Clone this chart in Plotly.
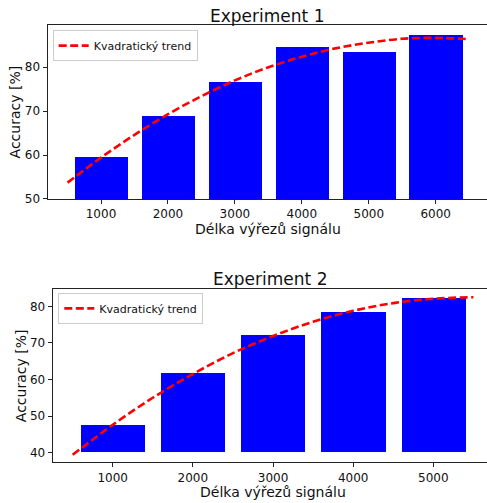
import plotly.graph_objects as go

# ---- data ----
exp1_lengths = [1000, 2000, 3000, 4000, 5000, 6000]
exp1_accuracy = [59.6, 68.8, 76.7, 84.5, 83.4, 87.4]
exp1_trend_x = [500, 1000, 1500, 2000, 2500, 3000, 3500, 4000, 4500, 5000, 5500, 6000, 6500]
exp1_trend_y = [53.7, 59.4, 64.6, 69.3, 73.4, 77.0, 80.0, 82.4, 84.3, 85.6, 86.5, 86.7, 86.4]

exp2_lengths = [1000, 2000, 3000, 4000, 5000]
exp2_accuracy = [47.5, 61.8, 72.1, 78.3, 82.35]
exp2_trend_x = [500, 1000, 1500, 2000, 2500, 3000, 3500, 4000, 4500, 5000, 5500]
exp2_trend_y = [39.4, 47.6, 55.0, 61.5, 67.2, 71.9, 75.8, 78.8, 80.9, 82.1, 82.5]

exp2_bar_base = 40

titles = ["Experiment 1", "Experiment 2"]
x_label = "Délka výřezů signálu"
y_label = "Accuracy [%]"
trend_name = "Kvadratický trend"

W, H = 487, 503
FONT = "DejaVu Sans"
BLUE = "#0000ff"
RED = "#ff0000"


def py(p):
    return 1 - p / H


def pxx(p):
    return p / W


fig = go.Figure()

fig.add_trace(go.Bar(x=exp1_lengths, y=exp1_accuracy, width=800, marker=dict(color=BLUE, line=dict(width=0)),
                     xaxis="x", yaxis="y", showlegend=False))
fig.add_trace(go.Scatter(x=exp1_trend_x, y=exp1_trend_y, mode="lines", name=trend_name,
                         line=dict(color=RED, width=2.6, dash="8px,3.5px", shape="spline"),
                         xaxis="x", yaxis="y", legend="legend"))

fig.add_trace(go.Bar(x=exp2_lengths, y=[v - exp2_bar_base for v in exp2_accuracy], base=exp2_bar_base,
                     width=800, marker=dict(color=BLUE, line=dict(width=0)),
                     xaxis="x2", yaxis="y2", showlegend=False))
fig.add_trace(go.Scatter(x=exp2_trend_x, y=exp2_trend_y, mode="lines", name=trend_name,
                         line=dict(color=RED, width=2.6, dash="8px,3.5px", shape="spline"),
                         xaxis="x2", yaxis="y2", legend="legend2"))

axis_common = dict(showgrid=False, zeroline=False, showline=True, linecolor="#222222", linewidth=1,
                   ticks="outside", ticklen=4, tickwidth=1, tickcolor="#222222",
                   tickfont=dict(family=FONT, size=12, color="#111111"), fixedrange=True)

fig.update_layout(
    width=W, height=H, margin=dict(l=0, r=0, t=0, b=0),
    paper_bgcolor="white", plot_bgcolor="white",
    bargap=0,
    xaxis=dict(axis_common, domain=[pxx(47.5), 1], range=[200.8, 6766], anchor="y", mirror=True,
               tickvals=exp1_lengths),
    yaxis=dict(axis_common, domain=[py(201.7), py(25.5)], range=[50, 89.6], anchor="x",
               tickvals=[50, 60, 70, 80]),
    xaxis2=dict(axis_common, domain=[pxx(52.6), 1], range=[250, 5670], anchor="y2", mirror=True,
                tickvals=exp2_lengths),
    yaxis2=dict(axis_common, domain=[py(469), py(293.3)], range=[37.3, 84.7], anchor="x2",
                tickvals=[40, 50, 60, 70, 80]),
    legend=dict(x=pxx(52.7), y=py(30.5), xanchor="left", yanchor="top", bgcolor="white",
                bordercolor="#cccccc", borderwidth=1, font=dict(family=FONT, size=11, color="#111111"),
                tracegroupgap=0, itemwidth=30),
    legend2=dict(x=pxx(58.3), y=py(297), xanchor="left", yanchor="top", bgcolor="white",
                 bordercolor="#cccccc", borderwidth=1, font=dict(family=FONT, size=11, color="#111111"),
                 tracegroupgap=0, itemwidth=30),
)

ann = []
ann.append(dict(text=titles[0], x=pxx(267), y=py(16.5), xref="paper", yref="paper", showarrow=False,
                xanchor="center", yanchor="middle", font=dict(family=FONT, size=17, color="#111111")))
ann.append(dict(text=titles[1], x=pxx(270), y=py(282.5), xref="paper", yref="paper", showarrow=False,
                xanchor="center", yanchor="middle", font=dict(family=FONT, size=17, color="#111111")))
ann.append(dict(text=x_label, x=pxx(268), y=py(232.5), xref="paper", yref="paper", showarrow=False,
                xanchor="center", yanchor="middle", font=dict(family=FONT, size=14, color="#111111")))
ann.append(dict(text=x_label, x=pxx(273), y=py(498.5), xref="paper", yref="paper", showarrow=False,
                xanchor="center", yanchor="middle", font=dict(family=FONT, size=14, color="#111111")))
ann.append(dict(text=y_label, x=pxx(15), y=py(114), xref="paper", yref="paper", showarrow=False,
                xanchor="center", yanchor="middle", textangle=-90, font=dict(family=FONT, size=14, color="#111111")))
ann.append(dict(text=y_label, x=pxx(20.5), y=py(381), xref="paper", yref="paper", showarrow=False,
                xanchor="center", yanchor="middle", textangle=-90, font=dict(family=FONT, size=14, color="#111111")))
fig.update_layout(annotations=ann)

fig.write_html("out.html", config={"displayModeBar": False})
